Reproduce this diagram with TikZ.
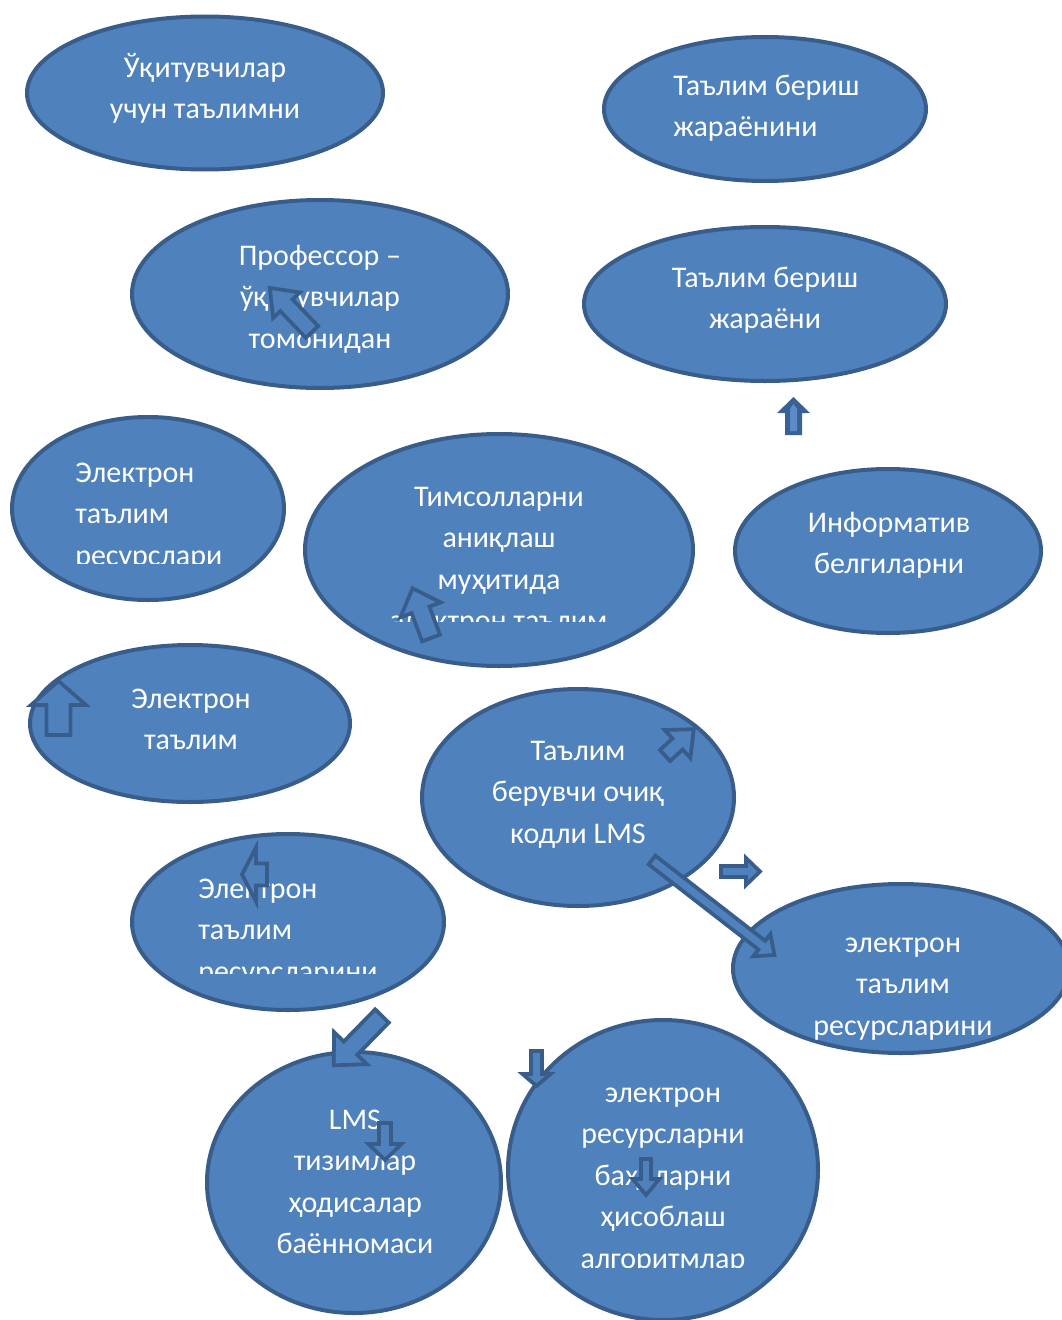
\documentclass[tikz,border=0pt]{standalone}
\usepackage{fontspec}
\setmainfont{Carlito}
\usetikzlibrary{shapes.geometric}
\definecolor{ofill}{HTML}{4F81BD}
\definecolor{oline}{HTML}{385D8A}
\definecolor{adark}{HTML}{3A6196}
\definecolor{alight}{HTML}{5B8CC8}
\tikzset{
  ell/.style={ellipse, draw=oline, fill=ofill, line width=3pt, inner sep=0pt},
  lbl/.style={text=white, font=\fontsize{22.5pt}{31.2pt}\selectfont, inner sep=0pt, align=center, anchor=base},
  lbll/.style={lbl, align=left, anchor=base west},
  barrow/.style={draw=oline, fill=ofill, line width=2.8pt, line join=miter},
  darrow/.style={draw=none, fill=adark},
}
% #1 style, #2 x, #3 y, #4 angle, #5 length, #6 head length, #7 shaft width, #8 head width
\newcommand\blockarr[8]{%
  \begin{scope}[shift={(#2,#3)}, rotate=#4]
    \draw[#1] (0,-#7/2) -- (#5-#6,-#7/2) -- (#5-#6,-#8/2) -- (#5,0) -- (#5-#6,#8/2) -- (#5-#6,#7/2) -- (0,#7/2) -- cycle;
  \end{scope}}
\begin{document}
\begin{tikzpicture}[x=0.75pt, y=-0.75pt]
\useasboundingbox (0,0) rectangle (1062,1320);
\clip (0,0) rectangle (1062,1320);
% ellipses
\node[ell, minimum width=267pt, minimum height=114.75pt] (e1) at (205,93) {};
\node[ell, minimum width=241.5pt, minimum height=108pt] (e2) at (765,109) {};
\node[ell, minimum width=282pt, minimum height=141pt] (e3) at (320,294) {};
\node[ell, minimum width=271.5pt, minimum height=115.5pt] (e4) at (765,304) {};
\node[ell, minimum width=204pt, minimum height=137.25pt] (e5) at (148,508.5) {};
\node[ell, minimum width=291pt, minimum height=174pt] (e6) at (499,550) {};
\node[ell, minimum width=229.5pt, minimum height=123pt] (e7) at (888,551) {};
\node[ell, minimum width=240pt, minimum height=117.75pt] (e8) at (190,723.5) {};
\node[ell, minimum width=234pt, minimum height=162.75pt] (e9) at (578,797.5) {};
\node[ell, minimum width=234pt, minimum height=132pt] (e10) at (288,922) {};
\node[ell, minimum width=252pt, minimum height=126.75pt] (e11) at (901,968.5) {};
\node[ell, minimum width=220.5pt, minimum height=195.75pt] (e12) at (354,1182.5) {};
\node[ell, minimum width=232.5pt, minimum height=225pt] (e13) at (663,1170) {};
% texts (base anchor = baseline of the last line)
\node[lbl] (t1) at (205,118.6) {Ўқитувчилар\\учун таълимни};
\node[lbll] (t2) at (673,136.6) {Таълим бериш\\жараёнини};
\node[lbl] (t3) at (320,348.2) {Профессор –\\ўқитувчилар\\томонидан};
\node[lbl] (t4) at (765,328.6) {Таълим бериш\\жараёни};
\begin{scope}
  \clip (0,400) rectangle (300,563);
  \node[lbll] (t5) at (75,565.2) {Электрон\\таълим\\ресурслари};
\end{scope}
\begin{scope}
  \clip (300,420) rectangle (700,621);
  \node[lbl] (t6) at (499,630.8) {Тимсолларни\\аниқлаш\\муҳитида\\электрон таълим};
\end{scope}
\node[lbl] (t7) at (889,573.6) {Информатив\\белгиларни};
\node[lbl] (t8) at (191,749.6) {Электрон\\таълим};
\node[lbl] (t9) at (578,843.2) {Таълим\\берувчи очиқ\\кодли LMS};
\begin{scope}
  \clip (130,830) rectangle (446,973);
  \node[lbll] (t10) at (198,981.2) {Электрон\\таълим\\ресурсларини};
\end{scope}
\node[lbl] (t11) at (903,1035.2) {электрон\\таълим\\ресурсларини};
\node[lbl] (t12) at (355,1253.8) {LMS\\тизимлар\\ҳодисалар\\баённомаси};
\begin{scope}
  \clip (500,1010) rectangle (830,1267);
  \node[lbl] (t13) at (663,1268.4) {электрон\\ресурсларни\\баҳоларни\\ҳисоблаш\\алгоритмлар};
\end{scope}
% block arrows
\blockarr{barrow}{312}{332}{133.7}{61}{24}{17}{37}
\blockarr{barrow}{431}{638}{110.4}{53}{23}{19}{43}
\blockarr{barrow}{58.5}{735}{90}{54}{24}{24}{55}
\blockarr{barrow}{665}{755.5}{42.5}{39}{22}{15}{38}
\blockarr{barrow}{721}{871.5}{0}{39}{14}{11}{27}
\blockarr{barrow}{652}{860}{-37.8}{155}{16}{11}{28}
\blockarr{barrow}{267}{874.5}{180}{25}{14}{22}{54}
\blockarr{barrow}{382}{1016}{-134.4}{69}{24}{19}{46}
\blockarr{barrow}{536.5}{1051}{-90}{35}{12}{11}{28}
\blockarr{barrow}{385}{1123}{-90}{37}{16}{12}{33}
\blockarr{barrow}{646}{1159}{-90}{36}{16}{10}{27}
\blockarr{darrow}{793.5}{435}{90}{38}{16}{17}{33}
\fill[alight] (790,431) rectangle (797,409) -- (793.5,404) -- (790,409) -- cycle;
\end{tikzpicture}
\end{document}
